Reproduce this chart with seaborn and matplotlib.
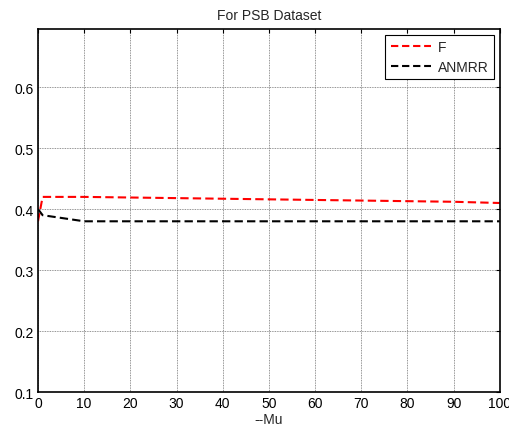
import numpy as np
import pandas as pd
import seaborn as sns
import matplotlib
matplotlib.use("Agg")
import matplotlib.pyplot as plt

# values
mu = [0, 1, 10, 20, 30, 40, 50, 60, 70, 80, 90, 100]
f_score = [0.38, 0.42, 0.42, 0.419, 0.418, 0.417, 0.416, 0.415, 0.414, 0.413, 0.412, 0.41]
anmrr = [0.40, 0.39, 0.38, 0.38, 0.38, 0.38, 0.38, 0.38, 0.38, 0.38, 0.38, 0.38]

df = pd.DataFrame({
    "mu": mu * 2,
    "value": f_score + anmrr,
    "metric": ["F"] * len(mu) + ["ANMRR"] * len(mu),
})

sns.set_style("white")
plt.rcParams["font.family"] = ["Liberation Sans", "DejaVu Sans"]

fig = plt.figure(figsize=(5.1, 4.31), dpi=100)
ax = fig.add_axes([0.0745, 0.088, 0.9055, 0.842])

sns.lineplot(
    data=df, x="mu", y="value", hue="metric",
    palette={"F": "red", "ANMRR": "black"},
    linewidth=1.5, ax=ax,
)
dash = (0, (4, 2))
for line in ax.get_lines():
    line.set_linestyle(dash)

ax.set_xlim(0, 100)
ax.set_ylim(0.1, 0.695)
ax.set_xticks(np.arange(0, 101, 10))
ax.set_yticks([0.1, 0.2, 0.3, 0.4, 0.5, 0.6])
ax.set_yticklabels(["0.1", "0.2", "0.3", "0.4", "0.5", "0.6"])
ax.grid(True, color="#707070", linestyle=(0, (1, 1)), linewidth=0.6)
ax.tick_params(direction="in", length=3, labelsize=10, colors="black",
               top=True, right=True, pad=3)
for s in ax.spines.values():
    s.set_color("black")
    s.set_linewidth(1.2)

ax.set_xlabel("--Mu", fontsize=10, labelpad=1)
ax.set_ylabel("")
ax.set_title("For PSB Dataset", fontsize=10, pad=7)

leg = ax.legend(loc="upper right", fontsize=10, frameon=True, fancybox=False,
                handlelength=2.9, handletextpad=0.5, borderaxespad=0.4,
                labelspacing=0.4, borderpad=0.4)
leg.get_frame().set_edgecolor("black")
leg.get_frame().set_linewidth(0.8)
leg.get_frame().set_alpha(1)
for h in leg.get_lines():
    h.set_linestyle((0, (3.5, 1.8)))

fig.savefig("out.png", dpi=100)
